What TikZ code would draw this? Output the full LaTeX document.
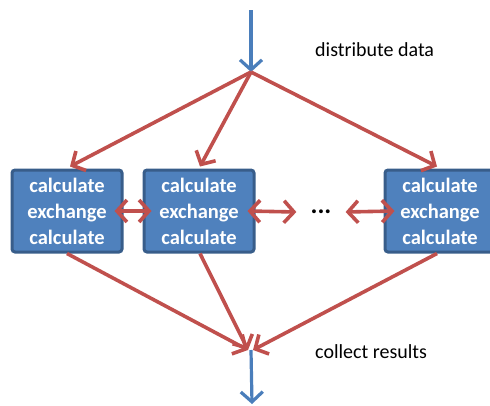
\documentclass[tikz,border=0pt]{standalone}
\usepackage{fontspec}
\setmainfont{Carlito}
\usetikzlibrary{arrows.meta}
\definecolor{boxfill}{HTML}{4F81BD}
\definecolor{boxline}{HTML}{385D8A}
\definecolor{redline}{HTML}{C0504D}
\definecolor{blueline}{HTML}{4A7EBB}
\tikzset{
  procbox/.style={draw=boxline, fill=boxfill, line width=3pt, rounded corners=3pt,
    minimum width=110pt, minimum height=82pt, inner sep=0pt, text=white,
    font=\fontsize{20.5}{26}\selectfont\bfseries, align=center},
  redarrow/.style={draw=redline, line width=3.6pt, -{Straight Barb[length=10pt,width=22pt]}},
  redboth/.style={draw=redline, line width=3.6pt, {Straight Barb[length=10pt,width=22pt]}-{Straight Barb[length=10pt,width=22pt]}},
  bluearrow/.style={draw=blueline, line width=3.2pt, -{Straight Barb[length=10pt,width=22pt]}},
  labeltext/.style={font=\fontsize{20}{24}\selectfont, inner sep=0pt}
}
\begin{document}
\begin{tikzpicture}[x=1pt,y=-1pt]
\useasboundingbox (0,0) rectangle (490,405);
\coordinate (top) at (251,10);
\coordinate (split) at (251,72);
\coordinate (join) at (251,350);
\coordinate (bottom) at (252,404);
\node[procbox] (b1) at (67,211) {calculate\\exchange\\calculate};
\node[procbox] (b2) at (199,211) {calculate\\exchange\\calculate};
\node[procbox] (b3) at (440,211) {calculate\\exchange\\calculate};
\node[inner sep=0pt] (dots) at (321,212) {\fontsize{26}{28}\selectfont\bfseries ...};
\node[labeltext, anchor=west] (dist) at (315,50) {distribute data};
\node[labeltext, anchor=west] (coll) at (315,352) {collect results};
\draw[bluearrow] (top) -- (split);
\draw[redarrow] (split) -- ([xshift=3pt,yshift=2pt]b1.north);
\draw[redarrow] (split) -- ([xshift=1pt,yshift=2pt]b2.north);
\draw[redarrow] (split) -- ([xshift=-3pt,yshift=2pt]b3.north);
\draw[redarrow] (b1.south) -- ([xshift=-3pt]join);
\draw[redarrow] ([xshift=1pt]b2.south) -- ([xshift=-3pt]join);
\draw[redarrow] ([xshift=-3pt]b3.south) -- ([xshift=2pt]join);
\draw[bluearrow] (join) -- (bottom);
\draw[redboth] ([xshift=-9pt]b1.east) -- ([xshift=9pt]b2.west);
\draw[redboth] ([xshift=-8pt]b2.east) -- ([xshift=-14pt]dots.west);
\draw[redboth] ([xshift=14pt]dots.east) -- ([xshift=11pt]b3.west);
\end{tikzpicture}
\end{document}
